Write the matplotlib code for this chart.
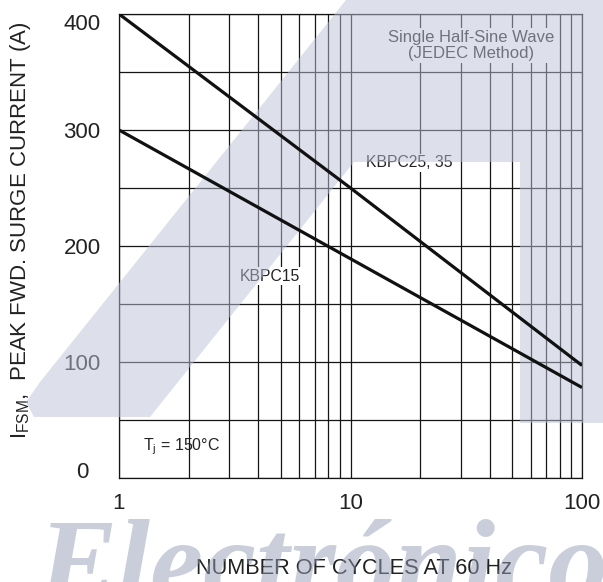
import matplotlib
matplotlib.use('Agg')
import matplotlib.pyplot as plt
from matplotlib.patches import Polygon
from matplotlib.ticker import FixedLocator, NullFormatter

# ---- data ----
cycles = [1, 10, 100]
kbpc25_35 = [400, 250, 97]
kbpc15 = [300, 189, 78]
x_major = [1, 10, 100]
x_major_labels = ['1', '10', '100']
x_minor = [2, 3, 4, 5, 6, 7, 8, 9, 20, 30, 40, 50, 60, 70, 80, 90]
y_major = [0, 100, 200, 300, 400]
y_major_labels = ['0', '100', '200', '300', '400']
y_minor = [50, 150, 250, 350]

W, H = 603, 582
plt.rcParams['font.family'] = ['Liberation Sans', 'DejaVu Sans']
plt.rcParams['mathtext.fontset'] = 'custom'
plt.rcParams['mathtext.rm'] = 'Liberation Sans'
plt.rcParams['mathtext.it'] = 'Liberation Sans:italic'

fig = plt.figure(figsize=(W / 100, H / 100), dpi=100)
pos = [119 / W, 1 - 478 / H, (582 - 119) / W, (478 - 14) / H]
ax = fig.add_axes(pos)
ax.set_xscale('log')
ax.set_xlim(1, 100)
ax.set_ylim(0, 400)

ax.xaxis.set_major_locator(FixedLocator(x_major))
ax.xaxis.set_minor_locator(FixedLocator(x_minor))
ax.xaxis.set_minor_formatter(NullFormatter())
ax.set_xticklabels(x_major_labels)
ax.yaxis.set_major_locator(FixedLocator(y_major))
ax.yaxis.set_minor_locator(FixedLocator(y_minor))
ax.set_yticklabels(y_major_labels)

ax.grid(which='both', color='#151515', lw=0.9)
ax.set_axisbelow(True)
for s in ax.spines.values():
    s.set_color('#151515')
    s.set_linewidth(0.9)
ax.tick_params(which='both', length=0)
ax.tick_params(axis='x', pad=11, labelsize=16, labelcolor='#222222')
ax.tick_params(axis='y', pad=26.6, labelsize=16, labelcolor='#222222')
for lab in ax.get_yticklabels():
    lab.set_ha('center')
    if lab.get_text() == '400':
        lab.set_va('top')
    elif lab.get_text() == '0':
        lab.set_va('baseline')

ax.set_xlabel('NUMBER OF CYCLES AT 60 Hz', fontsize=15.7, color='#222222')
ax.xaxis.set_label_coords((354 - 119) / 463, (478 - 568) / 464)
ax.xaxis.label.set_va('center')
ax.set_ylabel(r'I$_{\mathregular{FSM}}$,  PEAK FWD. SURGE CURRENT (A)', fontsize=16, color='#222222')
ax.yaxis.set_label_coords((21 - 119) / 463, (478 - 230) / 464)
ax.yaxis.label.set_va('center')
ax.yaxis.label.set_ha('center')

box = dict(facecolor='white', edgecolor='none', pad=1.0)
ax.text(33.2, 372.8, 'Single Half-Sine Wave\n(JEDEC Method)', ha='center', va='center',
        fontsize=12, color='#222222', linespacing=1.15, bbox=box, zorder=5)
ax.text(17.96, 271.6, 'KBPC25, 35', ha='center', va='center', fontsize=11.3,
        color='#222222', bbox=box, zorder=5)
ax.text(4.47, 174, 'KBPC15', ha='center', va='center', fontsize=11.3,
        color='#222222', bbox=box, zorder=5)
ax.text(1.87, 26.7, r'T$_{\mathregular{j}}$ = 150°C', ha='center', va='center',
        fontsize=11.5, color='#222222', zorder=5)

# ---- semi-transparent watermark overlay (figure pixel coords) ----
def fp(pts):
    return [(x / W, 1 - y / H) for x, y in pts]

shape = [(34, 417), (150, 417), (354, 162), (520, 162), (520, 423),
         (603, 423), (603, 0), (346, 0), (40, 382), (26, 402)]
fig.add_artist(Polygon(fp(shape), closed=True, transform=fig.transFigure,
                       facecolor=(189 / 255, 195 / 255, 217 / 255), edgecolor='none',
                       alpha=0.5, zorder=10))
fig.text(38 / W, 1 - 600 / H, 'Electrónico', fontsize=86, fontweight='bold',
         fontstyle='italic', family=['Liberation Serif', 'DejaVu Serif'],
         color=(150 / 255, 158 / 255, 185 / 255), alpha=0.5, ha='left',
         va='baseline', zorder=11)

# ---- curves drawn on a transparent twin axes above the watermark ----
ax2 = fig.add_axes(pos, sharex=ax, sharey=ax, zorder=20)
ax2.set_axis_off()
ax2.patch.set_visible(False)
ink = '#111111'
ax2.plot(cycles, kbpc25_35, color=ink, lw=2.3, solid_capstyle='butt')
ax2.plot(cycles, kbpc15, color=ink, lw=2.3, solid_capstyle='butt')
ax2.set_xlim(1, 100)
ax2.set_ylim(0, 400)

fig.savefig('out.png', dpi=100)
